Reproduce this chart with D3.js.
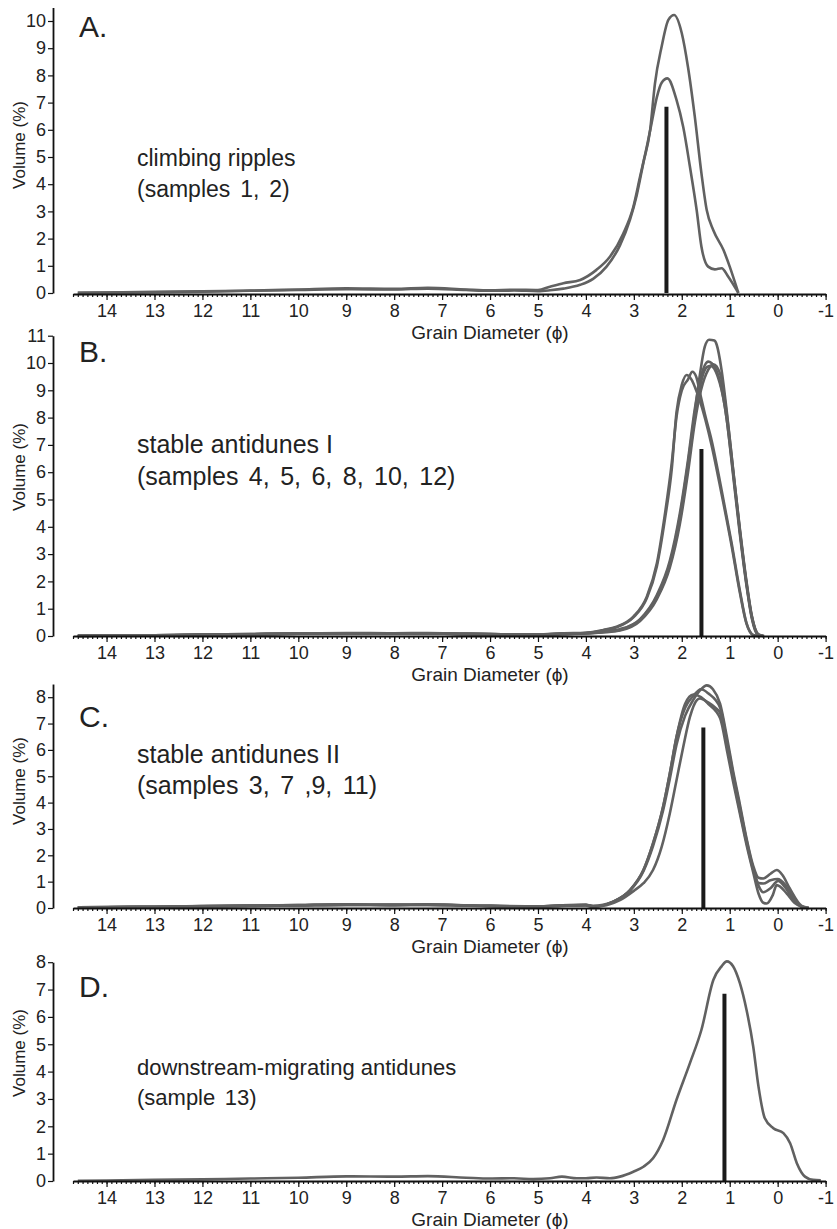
<!DOCTYPE html>
<html>
<head>
<meta charset="utf-8">
<script src="https://cdn.jsdelivr.net/npm/d3@7"></script>
<style>
  body { margin: 0; background: #fff; }
  text { font-family: "Liberation Sans", Arial, Helvetica, sans-serif; fill: #222; }
</style>
</head>
<body>
<svg width="837" height="1229"></svg>
<script>
// ---- data (phi, volume %) ----
var panelLetters = ["A.", "B.", "C.", "D."];
var facies = [
  ["climbing ripples", "(samples 1, 2)"],
  ["stable antidunes I", "(samples 4, 5, 6, 8, 10, 12)"],
  ["stable antidunes II", "(samples 3, 7 ,9, 11)"],
  ["downstream-migrating antidunes", "(sample 13)"]
];
var yMaxes = [10.5, 11, 8.5, 8];
var medianPhi = [2.32, 1.59, 1.55, 1.11];
var medianHeight = 6.85;
var xTickValues = d3.range(-1, 15);

// A: climbing ripples
var sample1 = [[14.6,0.01],[14,0.02],[13,0.03],[12,0.05],[11,0.08],[10,0.11],[9,0.14],[8,0.13],[7.3,0.16],[6.5,0.11],[6,0.08],[5.5,0.09],[5,0.07],[4.75,0.1],[4.47,0.16],[4.12,0.3],[3.85,0.52],[3.57,0.97],[3.29,1.75],[3.08,2.7],[2.94,3.6],[2.8,4.8],[2.66,6.0],[2.56,7.7],[2.42,9.06],[2.28,10.04],[2.16,10.22],[2.0,9.55],[1.87,8.3],[1.73,6.5],[1.59,4.4],[1.48,3.05],[1.34,2.3],[1.13,1.58],[1.0,0.97],[0.82,0]];
var sample2 = [[14.6,0.01],[14,0.02],[13,0.04],[12,0.06],[11,0.09],[10,0.13],[9,0.17],[8,0.15],[7.3,0.19],[6.5,0.13],[6,0.1],[5.5,0.12],[5,0.11],[4.75,0.23],[4.47,0.36],[4.12,0.48],[3.78,0.85],[3.5,1.33],[3.22,2.19],[3.01,3.17],[2.87,4.28],[2.73,5.38],[2.63,6.24],[2.52,7.2],[2.42,7.73],[2.3,7.89],[2.11,7.1],[1.97,6.1],[1.83,4.64],[1.69,3.05],[1.59,1.7],[1.45,0.97],[1.31,0.87],[1.17,0.91],[1.03,0.6],[0.82,0]];

// B: stable antidunes I
var sample4 = [[14.6,0],[14,0.01],[13,0.02],[12,0.04],[11,0.06],[10,0.08],[9,0.09],[8,0.08],[7.3,0.09],[6.5,0.07],[6,0.06],[5,0.04],[4.5,0.07],[4,0.1],[3.6,0.15],[3.29,0.22],[2.87,0.59],[2.52,1.44],[2.25,2.66],[2.04,4.37],[1.87,6.33],[1.73,8.16],[1.62,9.6],[1.52,10.6],[1.43,10.85],[1.32,10.82],[1.27,10.66],[1.17,9.74],[1.06,8.2],[0.93,6.1],[0.79,3.9],[0.65,1.95],[0.54,0.72],[0.4,0.05],[0.3,0]];
var sample5 = [[14.6,0.01],[14,0.01],[13,0.03],[12,0.05],[11,0.07],[10,0.09],[9,0.1],[8,0.09],[7.3,0.1],[6.5,0.08],[6,0.07],[5,0.05],[4.5,0.08],[4,0.11],[3.6,0.17],[3.29,0.25],[2.87,0.62],[2.52,1.5],[2.25,2.75],[2.04,4.5],[1.87,6.45],[1.73,8.3],[1.6,9.5],[1.45,10.05],[1.38,10.0],[1.2,9.3],[1.06,7.9],[0.93,5.9],[0.79,3.75],[0.65,1.85],[0.54,0.65],[0.42,0.05],[0.3,0]];
var sample6 = [[14.6,0],[14,0.01],[13,0.02],[12,0.04],[11,0.06],[10,0.08],[9,0.1],[8,0.09],[7.3,0.1],[6.5,0.07],[6,0.06],[5,0.05],[4.5,0.07],[4,0.09],[3.6,0.14],[3.29,0.2],[2.87,0.55],[2.52,1.35],[2.25,2.5],[2.04,4.1],[1.87,6.0],[1.73,7.8],[1.6,9.0],[1.45,9.75],[1.34,9.95],[1.2,9.6],[1.06,8.1],[0.93,6.1],[0.79,3.95],[0.65,2.0],[0.54,0.75],[0.4,0.06],[0.28,0]];
var sample8 = [[14.6,0.01],[14,0.02],[13,0.03],[12,0.04],[11,0.06],[10,0.09],[9,0.11],[8,0.1],[7.3,0.11],[6.5,0.08],[6,0.07],[5,0.05],[4.5,0.08],[4,0.1],[3.6,0.16],[3.29,0.23],[2.87,0.6],[2.52,1.4],[2.25,2.6],[2.04,4.25],[1.87,6.2],[1.73,8.0],[1.6,9.3],[1.48,9.85],[1.4,9.9],[1.25,9.5],[1.1,8.4],[0.93,6.0],[0.79,3.85],[0.65,1.9],[0.54,0.7],[0.41,0.05],[0.3,0]];
var sample10 = [[14.6,0.01],[14,0.02],[13,0.03],[12,0.05],[11,0.07],[10,0.09],[9,0.1],[8,0.09],[7.3,0.1],[6.5,0.08],[6,0.07],[5,0.05],[4.5,0.1],[4,0.12],[3.64,0.22],[3.36,0.34],[3.01,0.71],[2.73,1.44],[2.52,2.66],[2.35,4.49],[2.21,6.33],[2.11,8.03],[2.0,9.0],[1.87,9.4],[1.78,9.68],[1.7,9.5],[1.62,8.9],[1.5,8.0],[1.38,7.18],[1.17,5.35],[0.96,3.4],[0.79,1.68],[0.65,0.47],[0.51,0.04],[0.4,0]];
var sample12 = [[14.6,0],[14,0.01],[13,0.02],[12,0.04],[11,0.06],[10,0.08],[9,0.09],[8,0.08],[7.3,0.09],[6.5,0.07],[6,0.06],[5,0.05],[4.5,0.09],[4,0.11],[3.64,0.2],[3.36,0.32],[3.01,0.68],[2.73,1.38],[2.52,2.55],[2.35,4.3],[2.21,6.1],[2.11,8.2],[2.0,9.2],[1.9,9.56],[1.8,9.4],[1.7,9.0],[1.62,8.6],[1.38,7.0],[1.17,5.2],[0.96,3.3],[0.79,1.6],[0.65,0.45],[0.51,0.03],[0.4,0]];

// C: stable antidunes II
var sample3 = [[14.6,0.03],[14,0.04],[13,0.05],[12,0.07],[11,0.09],[10,0.11],[9,0.13],[8,0.12],[7.3,0.13],[6.5,0.1],[6,0.08],[5,0.06],[4.5,0.1],[4,0.12],[3.85,0.08],[3.43,0.24],[3.08,0.66],[2.8,1.4],[2.6,2.35],[2.39,3.7],[2.25,4.9],[2.11,6.2],[1.93,7.3],[1.76,7.9],[1.6,8.3],[1.48,8.45],[1.35,8.3],[1.2,7.75],[1.06,6.5],[0.93,5.2],[0.79,3.95],[0.65,2.65],[0.51,1.6],[0.4,1.15],[0.3,1.12],[0.15,1.3],[0.02,1.44],[-0.1,1.25],[-0.25,0.75],[-0.5,0.08],[-0.65,0]];
var sample7 = [[14.6,0.03],[14,0.04],[13,0.05],[12,0.06],[11,0.08],[10,0.1],[9,0.12],[8,0.11],[7.3,0.12],[6.5,0.09],[6,0.08],[5,0.06],[4.5,0.09],[4,0.11],[3.85,0.06],[3.43,0.24],[3.08,0.68],[2.8,1.44],[2.6,2.45],[2.39,3.84],[2.25,5.1],[2.11,6.5],[1.93,7.6],[1.76,8.05],[1.6,8.3],[1.45,8.15],[1.2,7.6],[1.06,6.36],[0.93,5.1],[0.79,3.84],[0.65,2.58],[0.51,1.5],[0.4,0.85],[0.3,0.6],[0.15,0.75],[-0.01,1.03],[-0.15,0.8],[-0.3,0.4],[-0.5,0.05],[-0.65,0]];
var sample9 = [[14.6,0.02],[14,0.03],[13,0.05],[12,0.07],[11,0.09],[10,0.11],[9,0.14],[8,0.13],[7.3,0.14],[6.5,0.1],[6,0.08],[5,0.06],[4.5,0.1],[4,0.12],[3.85,0.05],[3.43,0.24],[3.08,0.68],[2.8,1.44],[2.6,2.45],[2.39,3.84],[2.25,5.1],[2.11,6.49],[1.93,7.75],[1.76,8.1],[1.6,8.0],[1.45,7.75],[1.2,7.2],[1.06,6.0],[0.93,4.8],[0.79,3.6],[0.65,2.4],[0.51,1.35],[0.4,0.55],[0.3,0.2],[0.23,0.17],[0.1,0.5],[0.02,0.87],[-0.19,0.55],[-0.35,0.2],[-0.5,0.05],[-0.65,0]];
var sample11 = [[14.6,0.02],[14,0.03],[13,0.04],[12,0.06],[11,0.08],[10,0.1],[9,0.12],[8,0.11],[7.3,0.12],[6.5,0.09],[6,0.07],[5,0.05],[4.5,0.08],[4,0.1],[3.9,0.05],[3.57,0.11],[3.29,0.3],[2.98,0.68],[2.8,0.94],[2.6,1.44],[2.42,2.32],[2.25,3.59],[2.11,4.85],[1.97,6.11],[1.83,7.25],[1.69,7.88],[1.62,7.95],[1.45,7.8],[1.3,7.6],[1.2,7.4],[1.06,6.2],[0.93,4.95],[0.79,3.7],[0.65,2.5],[0.51,1.45],[0.4,0.95],[0.3,0.93],[0.15,1.05],[0.0,1.1],[-0.15,0.9],[-0.3,0.45],[-0.5,0.05],[-0.65,0]];

// D: downstream-migrating antidunes
var sample13 = [[14.6,0.01],[14,0.02],[13,0.04],[12,0.06],[11,0.09],[10,0.12],[9,0.17],[8,0.16],[7.3,0.18],[6.5,0.12],[6,0.09],[5.5,0.1],[5.1,0.07],[4.75,0.1],[4.5,0.16],[4.19,0.1],[4.0,0.1],[3.78,0.13],[3.5,0.1],[3.29,0.16],[3.01,0.34],[2.8,0.52],[2.6,0.83],[2.39,1.5],[2.11,2.97],[1.83,4.31],[1.59,5.53],[1.34,7.36],[1.17,7.85],[1.06,8.03],[0.93,7.85],[0.79,7.24],[0.65,6.26],[0.51,4.92],[0.4,3.45],[0.27,2.3],[0.09,1.93],[-0.12,1.75],[-0.26,1.38],[-0.4,0.65],[-0.57,0.16],[-0.74,0.04],[-0.9,0.03]];

var panelSeries = [
  [sample1, sample2],
  [sample4, sample5, sample6, sample8, sample10, sample12],
  [sample3, sample7, sample9, sample11],
  [sample13]
];

// ---- layout ----
var svg = d3.select("svg");
var layout = [
  { base: 293, axisY: 294, unit: 27.2, letterY: 37, textY: 166, lineGap: 31, textSize: 23, titleY: 145 },
  { base: 636, axisY: 636, unit: 27.3, letterY: 362, textY: 453, lineGap: 32, textSize: 25, titleY: 467 },
  { base: 908, axisY: 908, unit: 26.35, letterY: 727, textY: 763, lineGap: 31, textSize: 25, titleY: 781 },
  { base: 1181, axisY: 1181, unit: 27.35, letterY: 997, textY: 1075, lineGap: 30, textSize: 22, titleY: 1053 }
];

var x = d3.scaleLinear().domain([14.7, -1]).range([73, 825.6]);
var minorTicks = d3.range(-10, 148).map(function(d) { return d / 10; });

var line = d3.line()
    .x(function(d) { return x(d[0]); })
    .y(function(d) { return d[1]; })
    .curve(d3.curveMonotoneX);

layout.forEach(function(L, i) {
  var y = d3.scaleLinear()
      .domain([0, yMaxes[i]])
      .range([L.base, L.base - yMaxes[i] * L.unit]);

  var g = svg.append("g").attr("class", "panel");

  // curves
  g.selectAll(".curve")
    .data(panelSeries[i])
    .enter().append("path")
    .attr("class", "curve")
    .attr("fill", "none")
    .style("stroke", "#616161")
    .style("stroke-width", "2.6px")
    .style("stroke-linejoin", "round")
    .attr("d", function(s) {
      return line(s.map(function(p) { return [p[0], y(p[1])]; }));
    });

  // median marker
  g.append("line")
    .attr("x1", x(medianPhi[i])).attr("x2", x(medianPhi[i]))
    .attr("y1", y(0)).attr("y2", y(medianHeight))
    .style("stroke", "#1a1a1a")
    .style("stroke-width", "4px");

  // y axis
  var yAxis = g.append("g")
    .attr("transform", "translate(53,0)")
    .call(d3.axisLeft(y)
      .tickValues(d3.range(0, Math.floor(yMaxes[i]) + 1))
      .tickSize(5).tickSizeOuter(0).tickPadding(2)
      .tickFormat(function(d) { return String(d); }));

  // x axis (minor then major)
  var xMinor = g.append("g")
    .attr("transform", "translate(0," + L.axisY + ")")
    .call(d3.axisBottom(x).tickValues(minorTicks).tickSize(3).tickSizeOuter(0).tickFormat(""));
  var xMajor = g.append("g")
    .attr("transform", "translate(0," + L.axisY + ")")
    .call(d3.axisBottom(x).tickValues(xTickValues).tickSize(6).tickSizeOuter(0).tickPadding(4)
      .tickFormat(function(d) { return String(d); }));
  xMajor.select(".domain").remove();

  [yAxis, xMinor, xMajor].forEach(function(a) {
    a.selectAll(".domain").style("stroke", "#111").style("stroke-width", "1.8px");
    a.selectAll(".tick line").style("stroke", "#111").style("stroke-width", "1.2px");
    a.selectAll(".tick text").style("font-size", "18px").style("fill", "#222")
      .style("font-family", "'Liberation Sans', Arial, sans-serif");
  });

  // titles
  g.append("text")
    .attr("transform", "translate(19," + L.titleY + ") rotate(-90)")
    .attr("text-anchor", "middle")
    .attr("dominant-baseline", "central")
    .style("font-size", "17px")
    .text("Volume (%)");

  g.append("text")
    .attr("x", 490).attr("y", L.axisY + 45)
    .attr("text-anchor", "middle")
    .style("font-size", "19px")
    .text("Grain Diameter (\u03D5)");

  g.append("text")
    .attr("x", 79).attr("y", L.letterY)
    .style("font-size", "30px")
    .text(panelLetters[i]);

  g.selectAll(".facies")
    .data(facies[i])
    .enter().append("text")
    .attr("class", "facies")
    .attr("x", 137)
    .attr("y", function(d, k) { return L.textY + k * L.lineGap; })
    .style("font-size", L.textSize + "px")
    .style("word-spacing", function(d, k) { return k === 1 ? "3.5px" : "0px"; })
    .text(function(d) { return d; });
});
</script>
</body>
</html>
